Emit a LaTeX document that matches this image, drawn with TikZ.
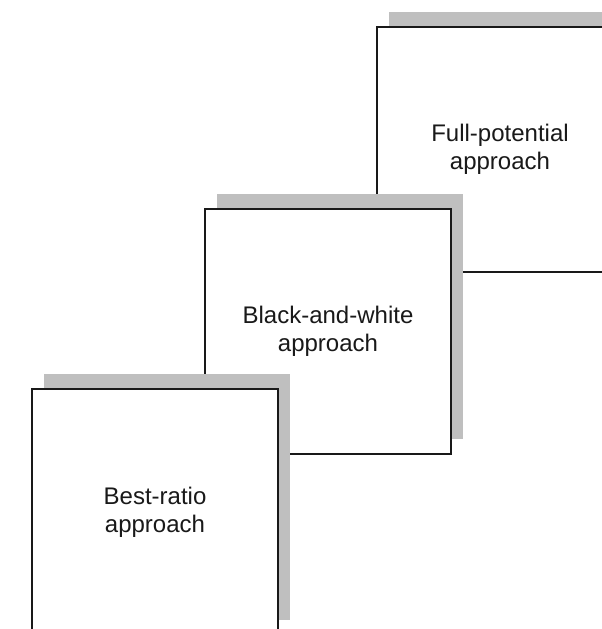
\documentclass[tikz,border=0pt]{standalone}
\usepackage{fontspec}
\setmainfont{Liberation Sans}
\usetikzlibrary{shadows}
\begin{document}
\begin{tikzpicture}[x=1pt,y=1pt,
  stage/.style={draw=black!90, line width=2.1pt, fill=white,
    minimum width=246pt, minimum height=245pt, inner sep=0pt,
    align=center, font=\fontsize{24}{28}\selectfont, text=black!90,
    drop shadow={shadow xshift=12pt, shadow yshift=15pt, fill=black!25, opacity=1}}]
\useasboundingbox (0,0) rectangle (602,629);
\clip (0,0) rectangle (602,629);
\node[stage] (full) at (500,479.5) {Full-potential\\approach};
\node[stage] (bw) at (328,297.5) {Black-and-white\\approach};
\node[stage, minimum height=246pt] (best) at (155,117) {Best-ratio\\approach};
\end{tikzpicture}
\end{document}
